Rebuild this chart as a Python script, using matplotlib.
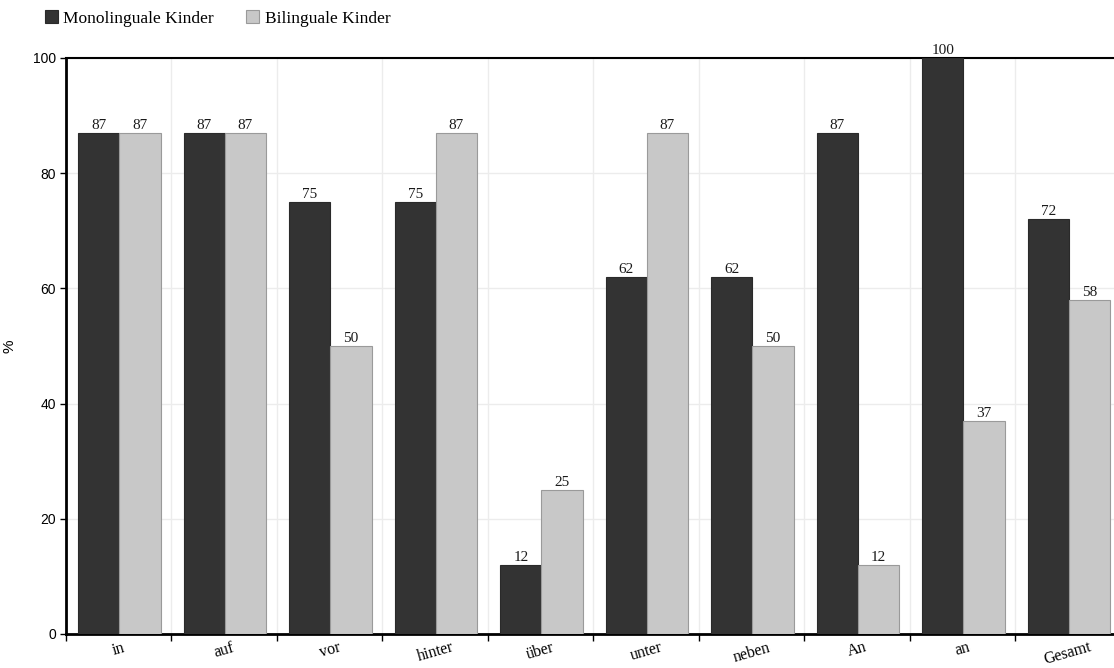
import matplotlib.pyplot as plt
import numpy as np

# Prepositions tested and share of correct answers per group
categories = ['in', 'auf', 'vor', 'hinter', 'über', 'unter', 'neben', 'An', 'an', 'Gesamt']
mono = [87, 87, 75, 75, 12, 62, 62, 87, 100, 72]
bili = [87, 87, 50, 87, 25, 87, 50, 12, 37, 58]
series_names = ['Monolinguale Kinder', 'Bilinguale Kinder']

serif = 'Liberation Serif'
sans = 'Liberation Sans'

fig = plt.figure(figsize=(11.14, 6.68), dpi=100)
ax = fig.add_axes([0.0592, 0.0509, 0.9408, 0.8623])

x = np.arange(len(categories))
w = 0.39
b1 = ax.bar(x - w / 2 + 0.007, mono, w, color='#333333', edgecolor='#2a2a2a', linewidth=0.8, zorder=3)
b2 = ax.bar(x + w / 2 + 0.007, bili, w, color='#c8c8c8', edgecolor='#9a9a9a', linewidth=0.8, zorder=3)

for bars, vals in ((b1, mono), (b2, bili)):
    for rect, v in zip(bars, vals):
        ax.text(rect.get_x() + rect.get_width() / 2, v + 0.2, str(v),
                ha='center', va='bottom', fontsize=11, family=serif, color='#1a1a1a', zorder=4)

ax.set_xlim(-0.5, len(categories) - 0.565)
ax.set_ylim(0, 100)

ax.set_yticks(range(0, 101, 20))
ax.tick_params(axis='y', direction='out', length=4, width=1, labelsize=10, pad=3)
for lbl in ax.get_yticklabels():
    lbl.set_family(sans)

ax.set_xticks(x)
ax.set_xticklabels(categories, rotation=16, family=serif, fontsize=11.5)
ax.tick_params(axis='x', length=0, pad=4)
ax.set_xticks(np.arange(len(categories)) - 0.5, minor=True)
ax.tick_params(axis='x', which='minor', direction='out', length=5, width=1)

ax.grid(axis='y', color='#ececec', linewidth=1, zorder=0)
ax.grid(axis='x', which='minor', color='#ececec', linewidth=1, zorder=0)

ax.spines['right'].set_visible(False)
ax.spines['left'].set_linewidth(2)
ax.spines['bottom'].set_linewidth(2)
ax.spines['top'].set_linewidth(1.5)

ax.set_ylabel('%', family=sans, fontsize=11)
ax.yaxis.set_label_coords(-0.047, 0.5)

fig.legend([b1, b2], series_names, loc='upper left', bbox_to_anchor=(0.026, 1.008),
           ncol=2, frameon=False, prop={'family': serif, 'size': 12.5},
           handlelength=0.75, handleheight=0.75, handletextpad=0.3, columnspacing=1.9)

fig.savefig('out.png', dpi=100)
